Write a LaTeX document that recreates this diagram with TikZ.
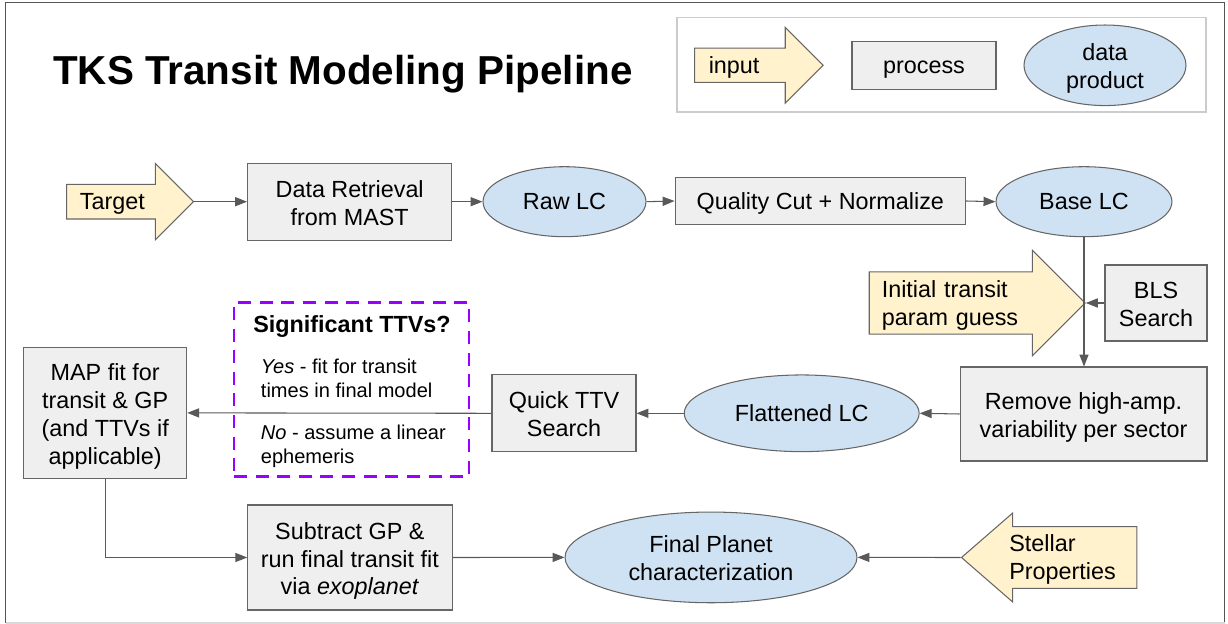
\documentclass[tikz,border=0pt]{standalone}
\usepackage{fontspec}
\setmainfont{Liberation Sans}
\usetikzlibrary{shapes.geometric,shapes.arrows,arrows.meta}

\definecolor{inputfill}{HTML}{FFF2CC}
\definecolor{procfill}{HTML}{EFEFEF}
\definecolor{datafill}{HTML}{CFE2F3}
\definecolor{edgegray}{HTML}{666666}
\definecolor{linkgray}{HTML}{595959}
\definecolor{framedark}{HTML}{555555}
\definecolor{framelight}{HTML}{D9D9D9}
\definecolor{legendgray}{HTML}{CCCCCC}
\definecolor{ttvpurple}{HTML}{9900FF}

\tikzset{
  txt/.style={font=\fontsize{13.3}{15.9}\selectfont,
    execute at begin node={\rule{0pt}{0.905em}},
    execute at end node={\rule[-0.212em]{0pt}{0.212em}}},
  multiline/.style={execute at begin node={\rule{0pt}{\dimexpr 15.9pt*#1+1.03em\relax}}},
  smalltxt/.style={font=\fontsize{11.4}{13.6}\selectfont},
  proc/.style={txt, draw=edgegray, fill=procfill, line width=0.6pt, align=center, inner sep=0pt},
  dataprod/.style={txt, ellipse, draw=edgegray, fill=datafill, line width=0.6pt, align=center, inner sep=0pt},
  inarrow/.style={txt, single arrow, draw=edgegray, fill=inputfill, line width=0.6pt, align=left, inner ysep=1pt},
  link/.style={draw=linkgray, line width=0.6pt, -{Triangle[length=6.8pt,width=5.2pt]}},
}

\begin{document}
\begin{tikzpicture}[x=0.02cm,y=-0.02cm]
\useasboundingbox (0,0) rectangle (1228,624);
\draw[framedark, line width=0.85pt] (5.5,623) -- (5.5,2.5) -- (1224.5,2.5) -- (1224.5,623);
\draw[framelight, line width=0.85pt] (5.5,623) -- (1224.5,623);

\node[font=\bfseries\fontsize{23}{27}\selectfont] (title) at (342.8,74) {TKS Transit Modeling Pipeline};

% legend
\node[draw=legendgray, line width=0.9pt, minimum width=10.58cm, minimum height=1.894cm] (legend) at (941.5,64.7) {};
\node[inarrow, minimum width=1.512cm, single arrow head extend=0.372cm, inner xsep=0.274cm, text width=1.66cm, anchor=tip] (leginput) at (823.8,65.3) {input};
\node[proc, minimum width=2.88cm, minimum height=0.952cm] (legproc) at (924,65.5) {process};
\node[dataprod, multiline=1, minimum width=3.24cm, minimum height=1.548cm] (legdata) at (1105,65.3) {data\\product};

% first row
\node[inarrow, minimum width=1.52cm, single arrow head extend=0.366cm, inner xsep=0.254cm, text width=1.66cm, anchor=tip] (target) at (194.2,201.7) {Target};
\node[proc, multiline=1, minimum width=4.086cm, minimum height=1.534cm] (retrieve) at (349.7,201.7) {Data Retrieval\\from MAST};
\node[dataprod, minimum width=3.26cm, minimum height=1.4cm] (rawlc) at (564.5,201.7) {Raw LC};
\node[proc, minimum width=5.81cm, minimum height=0.932cm] (qualcut) at (820.3,201) {Quality Cut + Normalize};
\node[dataprod, minimum width=3.52cm, minimum height=1.4cm] (baselc) at (1084,201.7) {Base LC};

\node[inarrow, minimum width=2.108cm, single arrow head extend=0.404cm, inner xsep=0.24cm, text width=3.192cm, anchor=tip] (initguess) at (1085.8,303) {Initial transit\\param guess};
\node[proc, multiline=1, minimum width=2.04cm, minimum height=1.52cm] (bls) at (1156,303) {BLS\\Search};

% second row
\node[proc, multiline=1, minimum width=4.94cm, minimum height=1.88cm] (remove) at (1083.5,414) {Remove high-amp.\\variability per sector};
\node[dataprod, minimum width=4.7cm, minimum height=1.534cm] (flatlc) at (801.7,413.3) {Flattened LC};
\node[proc, multiline=1, minimum width=2.88cm, minimum height=1.534cm] (quickttv) at (564,413.3) {Quick TTV\\Search};

\node[draw=ttvpurple, line width=1.5pt, dash pattern=on 7.4pt off 4.9pt, minimum width=4.7cm, minimum height=3.48cm] (ttvbox) at (351.5,389.5) {};
\node[txt, font=\bfseries\fontsize{13.3}{15.9}\selectfont] (ttvtitle) at (352,324) {Significant TTVs?};
\node[smalltxt, align=left, anchor=west, inner sep=0pt] (ttvyes) at (260.6,378) {\textit{Yes} - fit for transit\\times in final model};
\node[smalltxt, align=left, anchor=west, inner sep=0pt] (ttvno) at (260.6,446) {\textit{No} - assume a linear\\ephemeris};

\node[proc, multiline=3, minimum width=3.26cm, minimum height=2.634cm] (map) at (105.2,412.9) {MAP fit for\\transit \& GP\\(and TTVs if\\applicable)};

% last row
\node[proc, multiline=2, minimum width=4.086cm, minimum height=2.1cm] (subtract) at (349.9,557.5) {Subtract GP \&\\run final transit fit\\via \textit{exoplanet}};
\node[dataprod, multiline=1, minimum width=5.84cm, minimum height=1.814cm] (final) at (711,557.4) {Final Planet\\characterization};
\node[inarrow, shape border rotate=180, single arrow tip angle=82, minimum width=1.78cm, single arrow head extend=0.256cm, inner xsep=0.234cm, text width=2.306cm, anchor=tip] (stellar) at (960.7,557.5) {Stellar\\Properties};

% connectors
\draw[link] (target.tip) -- (retrieve.west);
\draw[link] (retrieve.east) -- (rawlc.west);
\draw[link] (rawlc.east) -- (qualcut.west);
\draw[link] (qualcut.east) -- (baselc.west);
\draw[link] (baselc.south) -- (baselc.south |- remove.north);
\draw[link] (bls.west) -- (initguess.tip);
\draw[link] (remove.west) -- (flatlc.east);
\draw[link] (flatlc.west) -- (quickttv.east);
\draw[link] (quickttv.west) -- (map.east);
\draw[link] (map.south) |- (subtract.west);
\draw[link] (subtract.east) -- (final.west);
\draw[link] (stellar.tip) -- (final.east);
\end{tikzpicture}
\end{document}
